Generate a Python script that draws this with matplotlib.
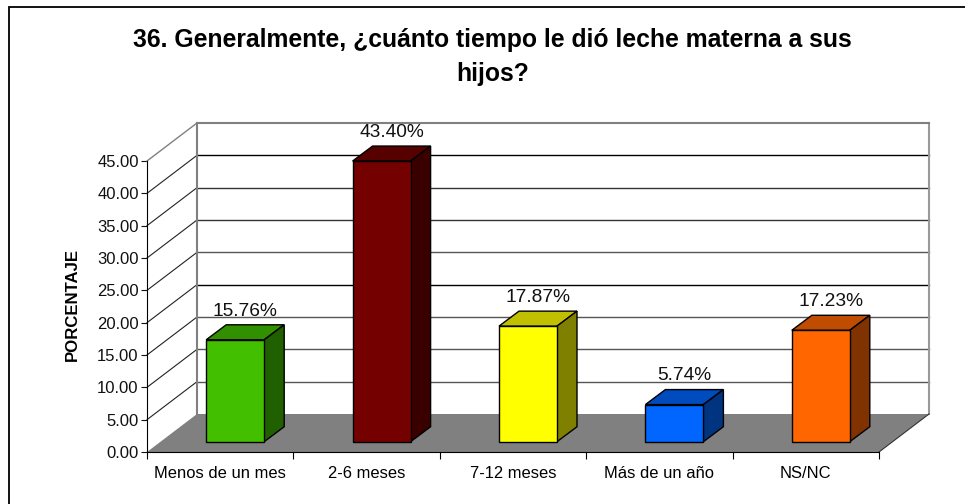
"""
36. Generalmente, ¿cuánto tiempo le dió leche materna a sus hijos?
Barras con aspecto 3D al estilo de Excel, dibujadas sobre ejes 2D.
"""

import matplotlib
matplotlib.use("Agg")
import matplotlib.pyplot as plt
from matplotlib.patches import Polygon, Rectangle

plt.rcParams['font.family'] = ['Liberation Sans', 'DejaVu Sans']

categorias = ['Menos de un mes', '2-6 meses', '7-12 meses', 'Más de un año', 'NS/NC']
valores = [15.76, 43.40, 17.87, 5.74, 17.23]
etiquetas = ['15.76%', '43.40%', '17.87%', '5.74%', '17.23%']
ticks_y = [0, 5, 10, 15, 20, 25, 30, 35, 40, 45]

color_frente = ['#42C000', '#750000', '#FFFF00', '#0066FF', '#FF6600']
color_tapa = ['#319000', '#560000', '#C0C000', '#004CBF', '#BF4C00']
color_lado = ['#216000', '#3A0000', '#808000', '#003380', '#803300']
color_grid = ['#555555', '#555555', '#555555', '#000000', '#555555', '#333333', '#333333', '#000000']

fig = plt.figure(figsize=(9.65, 5.04), dpi=100)
ax = fig.add_axes([147 / 965, 1 - 452 / 504, 732 / 965, 291 / 504])
ax.set_xlim(0, 5)
ax.set_ylim(0, 45)

# Profundidad del grafico en unidades de datos
prof_x = 50 / 146.4
prof_y = 38 / 6.467
ancho = 58 / 146.4
bar_px = 20 / 146.4
bar_py = 15 / 6.467
base_x = 15 / 146.4
base_y = 10.3 / 6.467

# Suelo gris
ax.add_patch(Polygon([(0, 0), (5, 0), (5 + prof_x, prof_y), (prof_x, prof_y)],
                     closed=True, fc='#808080', ec='none', clip_on=False, zorder=1))

# Lineas de la cuadricula, en la pared y al fondo
for t, color in zip(ticks_y[1:-1], color_grid):
    ax.plot([0, prof_x], [t, t + prof_y], color='#222222', lw=0.8, clip_on=False, zorder=2)
    ax.plot([prof_x, 5 + prof_x], [t + prof_y, t + prof_y], color=color, lw=1.0,
            clip_on=False, zorder=2)

# Borde de las paredes
ax.plot([0, prof_x], [45, 45 + prof_y], color='#808080', lw=1.0, clip_on=False, zorder=2)
ax.plot([prof_x, prof_x], [prof_y, 45 + prof_y], color='#808080', lw=1.5, clip_on=False, zorder=2)
ax.plot([5 + prof_x, 5 + prof_x], [prof_y, 45 + prof_y], color='#999999', lw=1.5, clip_on=False, zorder=2)
ax.plot([prof_x, 5 + prof_x], [45 + prof_y, 45 + prof_y], color='#808080', lw=1.5, clip_on=False, zorder=2)
ax.plot([5, 5 + prof_x], [0, prof_y], color='#333333', lw=0.8, clip_on=False, zorder=2)

# Barras
for i, v in enumerate(valores):
    x0 = i + 0.5 + base_x - ancho / 2
    x1 = x0 + ancho
    y0 = base_y
    y1 = base_y + v
    ax.add_patch(Polygon([(x0, y1), (x1, y1), (x1 + bar_px, y1 + bar_py), (x0 + bar_px, y1 + bar_py)],
                         closed=True, fc=color_tapa[i], ec='black', lw=1, clip_on=False, zorder=3))
    ax.add_patch(Polygon([(x1, y0), (x1 + bar_px, y0 + bar_py), (x1 + bar_px, y1 + bar_py), (x1, y1)],
                         closed=True, fc=color_lado[i], ec='black', lw=1, clip_on=False, zorder=3))
    ax.add_patch(Rectangle((x0, y0), ancho, v, fc=color_frente[i], ec='black', lw=1,
                           clip_on=False, zorder=4))
    ax.text((x0 + x1) / 2 + 10 / 146.4, y1 + bar_py + 0.8, etiquetas[i], ha='center', va='bottom',
            fontsize=13.8, color='#111111', clip_on=False, zorder=5)

# Ejes
for lado in ['top', 'right']:
    ax.spines[lado].set_visible(False)
for lado in ['left', 'bottom']:
    ax.spines[lado].set_linewidth(0.8)
    ax.spines[lado].set_zorder(6)
ax.set_facecolor('none')
ax.set_yticks(ticks_y)
ax.set_yticklabels([f'{t:.2f}' for t in ticks_y])
ax.set_xticks(range(6))
ax.set_xticklabels([])
ax.set_xticks([i + 0.5 for i in range(5)], minor=True)
ax.set_xticklabels(categorias, minor=True)
ax.tick_params(axis='x', which='minor', length=0, labelsize=11.9, pad=10)
ax.tick_params(axis='x', which='major', length=5, width=0.8)
ax.tick_params(axis='y', length=4, width=0.8, labelsize=12, pad=2, colors='#111111')
fig.text(72 / 965, 1 - 304.5 / 504, 'PORCENTAJE', rotation=90, ha='center', va='center',
         fontsize=12.1, fontweight='bold')

# Titulo
fig.text(492.5 / 965, 1 - 57 / 504,
         '36. Generalmente, ¿cuánto tiempo le dió leche materna a sus\nhijos?',
         ha='center', va='center', fontsize=17.8, fontweight='bold', linespacing=1.5)

# Marco exterior: solo se ven los lados superior e izquierdo
fig.add_artist(Rectangle((9 / 965, -0.02), 1.02, 1 - 6.5 / 504 + 0.02, transform=fig.transFigure,
                         fc='none', ec='black', lw=1.3))

fig.savefig('out.png', dpi=100)
